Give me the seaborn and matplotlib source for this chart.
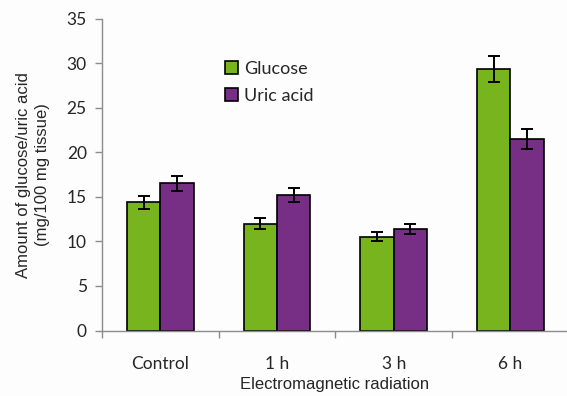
import matplotlib
matplotlib.use("Agg")
import matplotlib.pyplot as plt
import seaborn as sns
import pandas as pd
import numpy as np

categories = ["Control", "1 h", "3 h", "6 h"]
series = ["Glucose", "Uric acid"]
glucose = [14.4, 12.0, 10.55, 29.4]
uric_acid = [16.55, 15.25, 11.4, 21.5]
glucose_err = [0.75, 0.65, 0.55, 1.45]
uric_err = [0.85, 0.8, 0.6, 1.1]
colors = ["#77B41E", "#772F86"]

df = pd.DataFrame({
    "cat": categories * 2,
    "series": [series[0]] * 4 + [series[1]] * 4,
    "value": glucose + uric_acid,
})

sns.set_style("white")
plt.rcParams["font.family"] = ["Lato", "DejaVu Sans"]

fig = plt.figure(figsize=(5.67, 3.96), dpi=100)
fig.patch.set_facecolor("#FDFDFD")
ax = fig.add_axes([102 / 567, 0.1654, 1 - 102 / 567, 0.787])
ax.set_facecolor("#FDFDFD")

sns.barplot(data=df, x="cat", y="value", hue="series", order=categories,
            hue_order=series, palette=colors, width=0.57, errorbar=None,
            edgecolor="black", linewidth=1.2, saturation=1, ax=ax)

errs = {series[0]: glucose_err, series[1]: uric_err}
vals = {series[0]: glucose, series[1]: uric_acid}
for cont, s in zip(ax.containers, series):
    xs = [p.get_x() + p.get_width() / 2 for p in cont.patches]
    ax.errorbar(xs, vals[s], yerr=errs[s], fmt="none", ecolor="black",
                elinewidth=1.4, capsize=4.5, capthick=1.4, zorder=5)

ax.set_ylim(0, 35)
ax.set_yticks(range(0, 36, 5))
ax.set_xlim(-0.5, -0.5 + 465 / 116.7)

for sp in ["top", "right"]:
    ax.spines[sp].set_visible(False)
for sp in ["left", "bottom"]:
    ax.spines[sp].set_color("#8C8C8C")
    ax.spines[sp].set_linewidth(1.0)

ax.tick_params(axis="y", which="major", direction="out", length=5, width=1,
               color="#8C8C8C", labelsize=12.5, pad=6, left=True)
ax.tick_params(axis="x", which="major", length=0, labelsize=12.5, pad=18)
ax.set_xticks([-0.5, 0.5, 1.5, 2.5], minor=True)
ax.tick_params(axis="x", which="minor", direction="out", length=5, width=1,
               color="#8C8C8C", bottom=True)

ax.set_xlabel("Electromagnetic radiation", fontsize=12,
              family=["Liberation Sans", "DejaVu Sans"], labelpad=4)
ax.set_ylabel("Amount of glucose/uric acid\n(mg/100 mg tissue)", fontsize=12,
              family=["Liberation Sans", "DejaVu Sans"], labelpad=12,
              linespacing=1.3)

leg = ax.legend(loc="upper left", bbox_to_anchor=(0.245, 0.895), frameon=False,
                fontsize=13, handlelength=0.7, handleheight=0.7,
                handletextpad=0.35, labelspacing=0.62, borderpad=0)
for h in leg.legend_handles:
    h.set_edgecolor("black")
    h.set_linewidth(1.2)

fig.savefig("out.png", dpi=100, facecolor=fig.get_facecolor())
